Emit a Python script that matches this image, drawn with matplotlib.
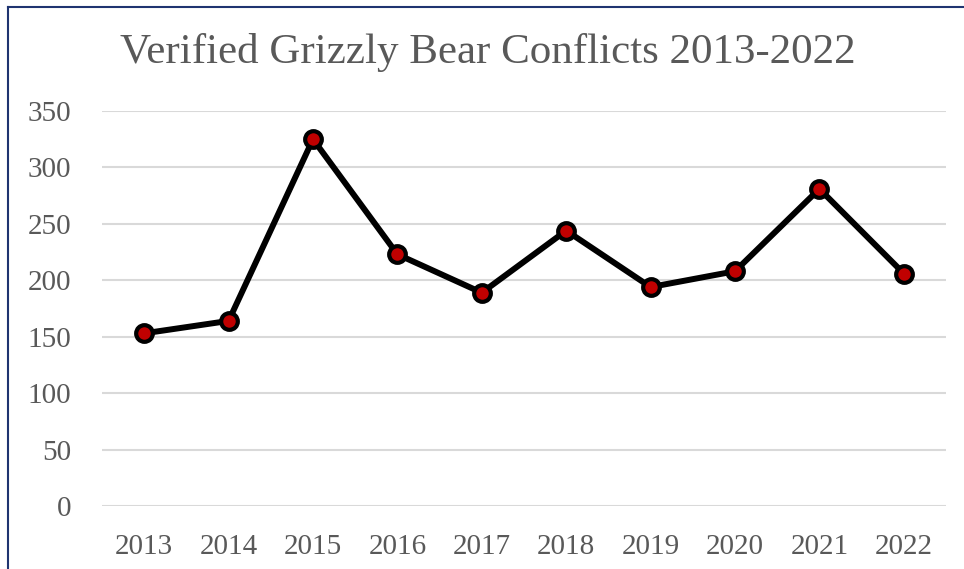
import matplotlib.pyplot as plt
from matplotlib.lines import Line2D

# Datos del gráfico
years = ['2013', '2014', '2015', '2016', '2017', '2018', '2019', '2020', '2021', '2022']
conflicts = [153, 164, 325, 223, 189, 244, 194, 208, 281, 206]
y_ticks = [0, 50, 100, 150, 200, 250, 300, 350]

plt.rcParams['font.family'] = ['Liberation Serif', 'DejaVu Serif']

fig = plt.figure(figsize=(9.64, 5.69), dpi=100)
ax = fig.add_axes([102 / 964, 1 - 506 / 569, (946 - 102) / 964, (506 - 111) / 569])

x = list(range(len(years)))
ax.plot(x, conflicts, color='black', linewidth=4.3, marker='o', markersize=12,
        markerfacecolor='#C00000', markeredgecolor='black', markeredgewidth=3,
        solid_joinstyle='round', zorder=3)

ax.set_xlim(-0.5, len(years) - 0.5)
ax.set_ylim(0, 350)
ax.set_xticks(x)
ax.set_xticklabels(years)
ax.set_yticks(y_ticks)
ax.tick_params(axis='both', length=0, labelsize=21, labelcolor='#595959')
ax.tick_params(axis='x', pad=20)
ax.tick_params(axis='y', pad=22)

ax.grid(axis='y', color='#D9D9D9', linewidth=1.5)
ax.set_axisbelow(True)
for s in ax.spines.values():
    s.set_visible(False)

fig.text(488 / 964, 1 - 52 / 569, 'Verified Grizzly Bear Conflicts 2013-2022',
         ha='center', va='center', fontsize=31, color='#595959')

# Borde del área del gráfico (arriba e izquierda)
fig.add_artist(Line2D([8 / 964, 8 / 964], [0, 1 - 7 / 569], color='#1F3470', linewidth=1.5))
fig.add_artist(Line2D([8 / 964, 1], [1 - 7 / 569, 1 - 7 / 569], color='#1F3470', linewidth=1.5))

fig.savefig('out.png', dpi=100)
